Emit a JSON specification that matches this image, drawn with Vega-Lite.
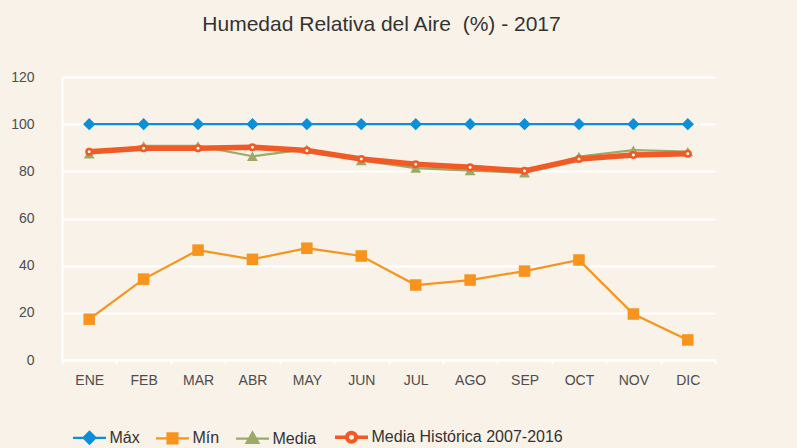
{
  "$schema": "https://vega.github.io/schema/vega-lite/v6.json",
  "width": 653,
  "height": 283,
  "autosize": {"type": "none"},
  "padding": {"left": 62, "top": 77, "right": 82, "bottom": 88},
  "background": "#F8F2E9",
  "config": {"view": {"stroke": null}, "font": "Liberation Sans"},
  "title": {"text": "Humedad Relativa del Aire\u00a0 (%) - 2017", "font": "Liberation Sans", "fontSize": 21, "fontWeight": "normal", "color": "#333333", "anchor": "middle", "dx": -7, "offset": 35},
  "data": {"values": [
    {"mes": "ENE", "serie": "Máx", "valor": 100}, {"mes": "FEB", "serie": "Máx", "valor": 100}, {"mes": "MAR", "serie": "Máx", "valor": 100}, {"mes": "ABR", "serie": "Máx", "valor": 100}, {"mes": "MAY", "serie": "Máx", "valor": 100}, {"mes": "JUN", "serie": "Máx", "valor": 100}, {"mes": "JUL", "serie": "Máx", "valor": 100}, {"mes": "AGO", "serie": "Máx", "valor": 100}, {"mes": "SEP", "serie": "Máx", "valor": 100}, {"mes": "OCT", "serie": "Máx", "valor": 100}, {"mes": "NOV", "serie": "Máx", "valor": 100}, {"mes": "DIC", "serie": "Máx", "valor": 100},
    {"mes": "ENE", "serie": "Mín", "valor": 17.3}, {"mes": "FEB", "serie": "Mín", "valor": 34.3}, {"mes": "MAR", "serie": "Mín", "valor": 46.6}, {"mes": "ABR", "serie": "Mín", "valor": 42.7}, {"mes": "MAY", "serie": "Mín", "valor": 47.4}, {"mes": "JUN", "serie": "Mín", "valor": 44.1}, {"mes": "JUL", "serie": "Mín", "valor": 31.8}, {"mes": "AGO", "serie": "Mín", "valor": 33.9}, {"mes": "SEP", "serie": "Mín", "valor": 37.7}, {"mes": "OCT", "serie": "Mín", "valor": 42.4}, {"mes": "NOV", "serie": "Mín", "valor": 19.5}, {"mes": "DIC", "serie": "Mín", "valor": 8.5},
    {"mes": "ENE", "serie": "Media", "valor": 87.4}, {"mes": "FEB", "serie": "Media", "valor": 90.8}, {"mes": "MAR", "serie": "Media", "valor": 90.8}, {"mes": "ABR", "serie": "Media", "valor": 86.4}, {"mes": "MAY", "serie": "Media", "valor": 89.4}, {"mes": "JUN", "serie": "Media", "valor": 84.6}, {"mes": "JUL", "serie": "Media", "valor": 81.4}, {"mes": "AGO", "serie": "Media", "valor": 80.3}, {"mes": "SEP", "serie": "Media", "valor": 79.4}, {"mes": "OCT", "serie": "Media", "valor": 86.3}, {"mes": "NOV", "serie": "Media", "valor": 89.0}, {"mes": "DIC", "serie": "Media", "valor": 88.4},
    {"mes": "ENE", "serie": "Media Histórica 2007-2016", "valor": 88.3}, {"mes": "FEB", "serie": "Media Histórica 2007-2016", "valor": 89.8}, {"mes": "MAR", "serie": "Media Histórica 2007-2016", "valor": 89.8}, {"mes": "ABR", "serie": "Media Histórica 2007-2016", "valor": 90.2}, {"mes": "MAY", "serie": "Media Histórica 2007-2016", "valor": 88.8}, {"mes": "JUN", "serie": "Media Histórica 2007-2016", "valor": 85.2}, {"mes": "JUL", "serie": "Media Histórica 2007-2016", "valor": 83.0}, {"mes": "AGO", "serie": "Media Histórica 2007-2016", "valor": 81.7}, {"mes": "SEP", "serie": "Media Histórica 2007-2016", "valor": 80.2}, {"mes": "OCT", "serie": "Media Histórica 2007-2016", "valor": 85.2}, {"mes": "NOV", "serie": "Media Histórica 2007-2016", "valor": 86.9}, {"mes": "DIC", "serie": "Media Histórica 2007-2016", "valor": 87.5}
  ]},
  "encoding": {
    "x": {"field": "mes", "type": "nominal", "sort": ["ENE", "FEB", "MAR", "ABR", "MAY", "JUN", "JUL", "AGO", "SEP", "OCT", "NOV", "DIC"],
      "scale": {"type": "band", "paddingInner": 0, "paddingOuter": 0},
      "axis": {"title": null, "labelAngle": 0, "labelFontSize": 14, "labelColor": "#4d4d4d", "labelPadding": 9, "domainColor": "#ffffff", "domainWidth": 2, "tickColor": "#ffffff", "tickWidth": 2, "tickSize": 4, "tickBand": "extent", "grid": false}},
    "y": {"field": "valor", "type": "quantitative",
      "scale": {"domain": [0, 120], "nice": false},
      "axis": {"title": null, "values": [0, 20, 40, 60, 80, 100, 120], "labelFontSize": 14, "labelColor": "#4d4d4d", "labelPadding": 28, "ticks": false, "domainColor": "#ffffff", "domainWidth": 2, "gridColor": "#ffffff", "gridWidth": 2, "gridOpacity": 1}}
  },
  "layer": [
    {
      "transform": [{"filter": "datum.serie !== 'Media Histórica 2007-2016'"}],
      "mark": {"type": "line", "strokeWidth": 2.2},
      "encoding": {
        "color": {"field": "serie", "type": "nominal",
          "scale": {"domain": ["Máx", "Mín", "Media", "Media Histórica 2007-2016"], "range": ["#0A8FD8", "#F7941D", "#9BAA66", "#F15A24"]},
          "legend": {"title": null, "orient": "none", "legendX": 11, "legendY": 352, "direction": "horizontal",
            "symbolSize": 1089, "symbolType": "M-1,0H1", "symbolOffset": 8.5, "labelFontSize": 16, "labelColor": "#333333", "labelOffset": 12, "labelLimit": 0, "columnPadding": 11, "padding": 0,
            "encode": {"symbols": {"update": {
              "size": {"value": 1089},
              "shape": {"signal": "datum.index === 0 ? 'M-1,0H1M0,-0.36L0.36,0L0,0.36L-0.36,0Z' : datum.index === 1 ? 'M-1,0H1M-0.3,-0.3H0.3V0.3H-0.3Z' : datum.index === 2 ? 'M-1,0H1M0,-0.38L0.36,0.26H-0.36Z' : 'M-1,0H-0.3M0.3,0H1M0.29,0C0.29,0.16 0.16,0.29 0,0.29C-0.16,0.29 -0.29,0.16 -0.29,0C-0.29,-0.16 -0.16,-0.29 0,-0.29C0.16,-0.29 0.29,-0.16 0.29,0ZM0.255,0C0.255,-0.141 0.141,-0.255 0,-0.255C-0.141,-0.255 -0.255,-0.141 -0.255,0C-0.255,0.141 -0.141,0.255 0,0.255C0.141,0.255 0.255,0.141 0.255,0Z'"},
              "fill": {"signal": "datum.index >= 3 ? 'white' : scale('color', datum.value)"},
              "stroke": {"signal": "scale('color', datum.value)"},
              "strokeWidth": {"signal": "datum.index >= 3 ? 3.4 : 2.2"},
              "opacity": {"value": 1},
              "fillOpacity": {"value": 1},
              "strokeOpacity": {"value": 1}
            }}}}}
      }
    },
    {
      "transform": [{"filter": "datum.serie !== 'Media Histórica 2007-2016'"}],
      "mark": {"type": "point", "filled": true, "opacity": 1},
      "encoding": {
        "color": {"field": "serie", "type": "nominal", "legend": null},
        "shape": {"field": "serie", "type": "nominal", "legend": null,
          "scale": {"domain": ["Máx", "Mín", "Media"], "range": ["diamond", "square", "triangle-up"]}},
        "size": {"field": "serie", "type": "nominal", "legend": null,
          "scale": {"domain": ["Máx", "Mín", "Media"], "range": [150, 115, 150]}}
      }
    },
    {
      "transform": [{"filter": "datum.serie === 'Media Histórica 2007-2016'"}],
      "mark": {"type": "line", "strokeWidth": 5.5, "color": "#F15A24"},
      "encoding": {}
    },
    {
      "transform": [{"filter": "datum.serie === 'Media Histórica 2007-2016'"}],
      "mark": {"type": "point", "shape": "circle", "size": 30, "filled": false, "fill": "#ffffff", "stroke": "#F15A24", "strokeWidth": 2.5, "opacity": 1, "fillOpacity": 1},
      "encoding": {}
    }
  ]
}
